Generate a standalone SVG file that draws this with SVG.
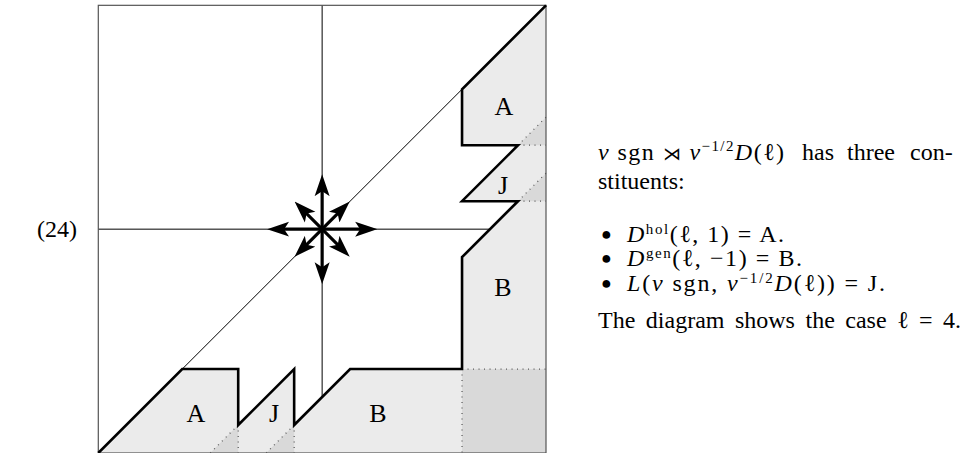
<svg xmlns="http://www.w3.org/2000/svg" width="968" height="453" viewBox="0 0 968 453">
  <style>
    .thin { stroke: #000; stroke-width: 1; fill: none; }
    .frame { stroke: #555; stroke-width: 1.2; fill: none; }
    .thick { stroke: #000; stroke-width: 2.6; fill: none; stroke-linejoin: miter; }
    .dot { stroke: #555; stroke-width: 1.2; stroke-dasharray: 1 4.5; fill: none; }
    .light { fill: #ebebeb; stroke: none; }
    .dark { fill: #d9d9d9; stroke: none; }
    .arrow { stroke: #000; stroke-width: 3.2; fill: none; marker-end: url(#head); }
    .lab { font-family: "Liberation Serif", "DejaVu Serif", serif; font-size: 26px; fill: #000; text-anchor: middle; }
    .txt { font-family: "Liberation Serif", "DejaVu Serif", serif; font-size: 24px; fill: #000; }
    .bul { font-family: "Liberation Serif", "DejaVu Serif", serif; font-size: 18px; fill: #000; }
    .sup { font-size: 15px; }
    .it { font-style: italic; }
  </style>
  <defs>
    <marker id="head" viewBox="0 -8 22 16" markerWidth="22" markerHeight="16" refX="12" refY="0" orient="auto" markerUnits="userSpaceOnUse">
      <path d="M22,0 L0,-7.5 L5,0 L0,7.5 Z" fill="#000"/>
    </marker>
  </defs>
  <rect width="968" height="453" fill="#fff"/>

  <g id="grid-lines">
    <line class="thin" x1="322.14" y1="5.32" x2="322.14" y2="453"/>
    <line class="thin" x1="98.3" y1="229.16" x2="546" y2="229.16"/>
    <line class="thin" x1="98.3" y1="453" x2="546" y2="5.32"/>
  </g>

  <g id="regions">
    <polygon class="light" points="546,5.32 462.04,89.26 462.04,145.22 518,145.22 462.04,201.18 518,201.18 462.04,257.14 462.04,369.06 350.12,369.06 294.16,425.02 294.16,369.06 238.2,425.02 238.2,369.06 182.24,369.06 98.3,453 546,453"/>
    <rect class="dark" x="462.04" y="369.06" width="83.96" height="83.94"/>
    <polygon class="dark" points="518,145.22 546,117.24 546,145.22"/>
    <polygon class="dark" points="518,201.18 546,173.2 546,201.18"/>
    <polygon class="dark" points="238.2,425.02 210.22,453 238.2,453"/>
    <polygon class="dark" points="294.16,425.02 266.18,453 294.16,453"/>
  </g>

  <g id="dotted">
    <line class="dot" x1="462.04" y1="369.06" x2="546" y2="369.06"/>
    <line class="dot" x1="462.04" y1="369.06" x2="462.04" y2="453"/>
    <line class="dot" x1="518" y1="145.22" x2="546" y2="145.22"/>
    <line class="dot" x1="518" y1="145.22" x2="546" y2="117.24"/>
    <line class="dot" x1="518" y1="201.18" x2="546" y2="201.18"/>
    <line class="dot" x1="518" y1="201.18" x2="546" y2="173.2"/>
    <line class="dot" x1="238.2" y1="425.02" x2="238.2" y2="453"/>
    <line class="dot" x1="238.2" y1="425.02" x2="210.22" y2="453"/>
    <line class="dot" x1="294.16" y1="425.02" x2="294.16" y2="453"/>
    <line class="dot" x1="294.16" y1="425.02" x2="266.18" y2="453"/>
  </g>

  <g id="frame">
    <rect class="frame" x="98.3" y="5.32" width="447.7" height="447.68"/>
  </g>

  <g id="boundary">
    <path class="thick" d="M98.3,453 L182.24,369.06 L238.2,369.06 L238.2,425.02 L294.16,369.06 L294.16,425.02 L350.12,369.06 L462.04,369.06 L462.04,257.14 L518,201.18 L462.04,201.18 L518,145.22 L462.04,145.22 L462.04,89.26 L546,5.32"/>
  </g>

  <g id="arrows">
    <line class="arrow" x1="322.14" y1="229.16" x2="367.14" y2="229.16"/>
    <line class="arrow" x1="322.14" y1="229.16" x2="277.14" y2="229.16"/>
    <line class="arrow" x1="322.14" y1="229.16" x2="322.14" y2="184.16"/>
    <line class="arrow" x1="322.14" y1="229.16" x2="322.14" y2="274.16"/>
    <line class="arrow" x1="322.14" y1="229.16" x2="342.64" y2="208.66"/>
    <line class="arrow" x1="322.14" y1="229.16" x2="301.64" y2="208.66"/>
    <line class="arrow" x1="322.14" y1="229.16" x2="342.64" y2="249.66"/>
    <line class="arrow" x1="322.14" y1="229.16" x2="301.64" y2="249.66"/>
  </g>

  <g id="labels">
    <g id="label-A-right"><text class="lab" x="504" y="115">A</text></g>
    <g id="label-J-right"><text class="lab" x="503" y="194">J</text></g>
    <g id="label-B-right"><text class="lab" x="503" y="296">B</text></g>
    <g id="label-A-bottom"><text class="lab" x="196" y="422">A</text></g>
    <g id="label-J-bottom"><text class="lab" x="274" y="422">J</text></g>
    <g id="label-B-bottom"><text class="lab" x="378" y="422">B</text></g>
  </g>

  <g id="eqnum">
    <text class="txt" x="37" y="237" font-size="23">(24)</text>
  </g>

  <g id="caption">
    <text class="txt" x="598" y="160" textLength="186" lengthAdjust="spacing"><tspan class="it">ν</tspan> sgn <tspan font-size="18">⋊</tspan> <tspan class="it">ν</tspan><tspan class="sup" dy="-9">−1/2</tspan><tspan class="it" dy="9">D</tspan>(ℓ)</text>
    <text class="txt" x="802" y="160">has</text>
    <text class="txt" x="847" y="160">three</text>
    <text class="txt" x="910" y="160">con-</text>
    <text class="txt" x="598" y="189">stituents:</text>

    <text class="bul" x="601" y="240">●</text>
    <text class="txt" x="627" y="242" textLength="157" lengthAdjust="spacing"><tspan class="it">D</tspan><tspan class="sup" dy="-8">hol</tspan><tspan dy="8">(ℓ, 1) = A.</tspan></text>
    <text class="bul" x="601" y="264">●</text>
    <text class="txt" x="627" y="266" textLength="175" lengthAdjust="spacing"><tspan class="it">D</tspan><tspan class="sup" dy="-8">gen</tspan><tspan dy="8">(ℓ, −1) = B.</tspan></text>
    <text class="bul" x="601" y="289">●</text>
    <text class="txt" x="627" y="291" textLength="258" lengthAdjust="spacing"><tspan class="it">L</tspan>(<tspan class="it">ν</tspan> sgn, <tspan class="it">ν</tspan><tspan class="sup" dy="-8">−1/2</tspan><tspan class="it" dy="8">D</tspan>(ℓ)) = J.</text>

    <text class="txt" x="598" y="328" word-spacing="4.5">The diagram shows the case ℓ = 4.</text>
  </g>
</svg>
